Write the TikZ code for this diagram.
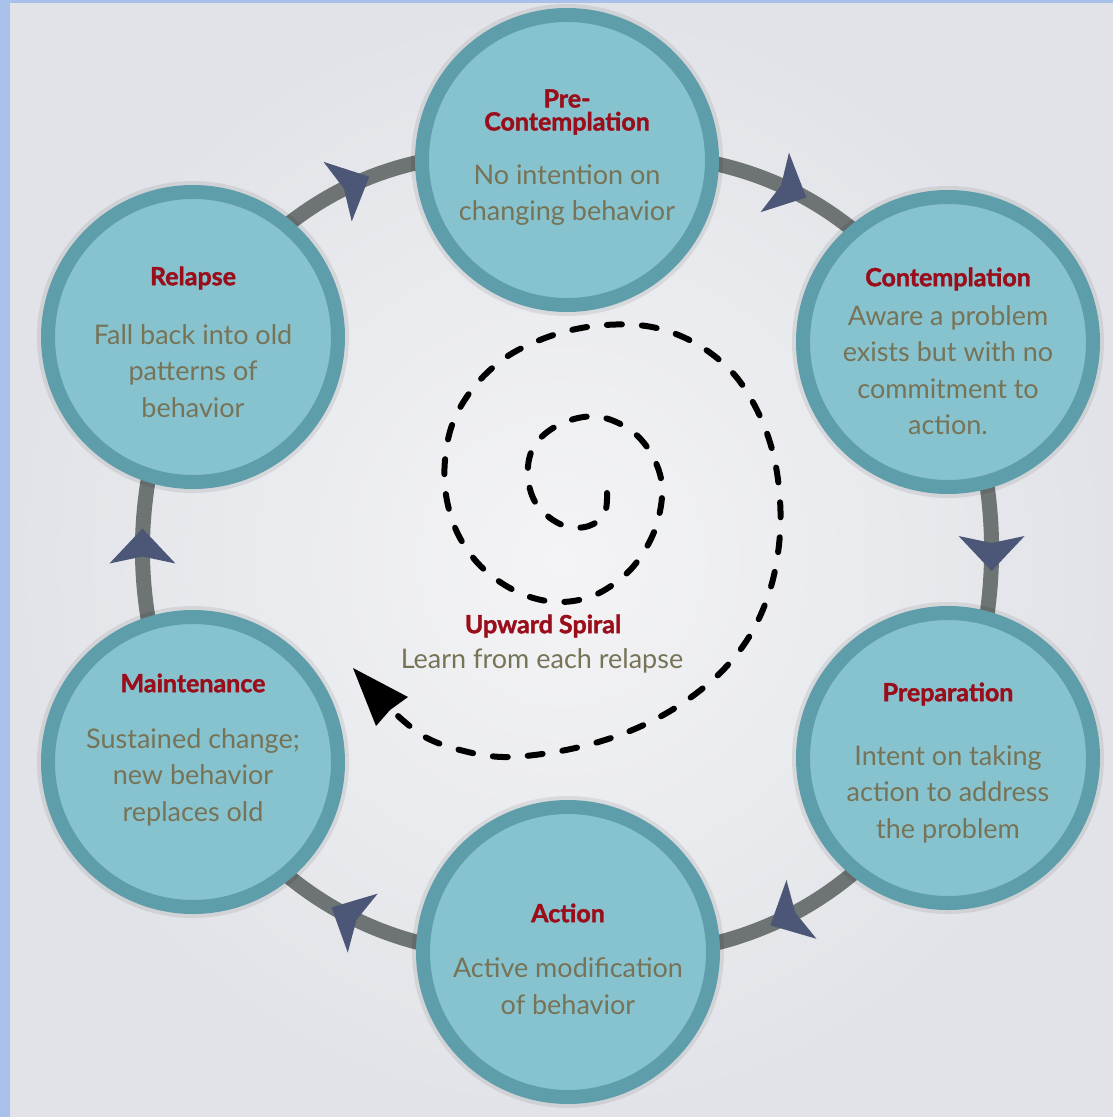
\documentclass[tikz,border=0pt]{standalone}
\usepackage{fontspec}
\setmainfont{Lato}
\newfontfamily\heavyfont{Lato}[BoldFeatures={FakeBold=1.6}]
\usetikzlibrary{decorations.markings}
\definecolor{bgblue}{HTML}{A9C1EA}
\definecolor{ringgray}{HTML}{6D7473}
\definecolor{arrowblue}{HTML}{4C5677}
\definecolor{tealring}{HTML}{5E9EAB}
\definecolor{tealfill}{HTML}{87C3CF}
\definecolor{titlered}{HTML}{9A0E1C}
\definecolor{bodyolive}{HTML}{777357}
\definecolor{bgin}{HTML}{F4F4F6}
\definecolor{bgout}{HTML}{E1E3E8}
\pgfdeclarelayer{bglayer}
\pgfsetlayers{bglayer,main}
\begin{document}
\begin{tikzpicture}[x=1pt,y=-1pt,
  stage/.style={circle, draw=tealring, fill=tealfill, line width=14pt, minimum size=290pt, inner sep=0pt},
  halo/.style={fill=black, opacity=0.08},
  ttl/.style={text=titlered, font=\fontsize{25}{23}\heavyfont\bfseries, align=center, inner sep=0pt},
  body/.style={text=bodyolive, font=\fontsize{27}{36.5}\selectfont, align=center, inner sep=0pt},
  cyc/.style={draw=ringgray, line width=15pt, postaction={decorate},
    decoration={markings, mark=at position 0.5 with {\fill[arrowblue] (21pt,0pt) -- (-14pt,-33pt) -- (-7pt,0pt) -- (-14pt,33pt) -- cycle;}}},
  spiral/.style={draw=black, line width=6pt, line cap=round, dash pattern=on 15pt off 20pt},
]
\useasboundingbox (0,0) rectangle (1113,1117);

% halos
\fill[halo] (567,160) circle (156pt);
\fill[halo] (948,342) circle (156pt);
\fill[halo] (948,758) circle (156pt);
\fill[halo] (568,952) circle (156pt);
\fill[halo] (193,762) circle (156pt);
\fill[halo] (193,337) circle (156pt);

% stages
\node[stage] (pre)  at (567,160) {};
\node[stage] (con)  at (948,342) {};
\node[stage] (prep) at (948,758) {};
\node[stage] (act)  at (568,952) {};
\node[stage] (mnt)  at (193,762) {};
\node[stage] (rel)  at (193,337) {};

\begin{pgfonlayer}{bglayer}
\fill[bgblue] (0,0) rectangle (1113,1117);
\shade[inner color=bgin, outer color=bgout] (10,3) rectangle (1113,1117);
\draw[cyc] (rel.center)  to[bend left=35] (pre.center);
\draw[cyc] (pre.center)  to[bend left=34] (con.center);
\draw[cyc] (con.center)  to[bend left=21] (prep.center);
\draw[cyc] (prep.center) to[bend left=33] (act.center);
\draw[cyc] (act.center)  to[bend left=33] (mnt.center);
\draw[cyc] (mnt.center)  to[bend left=24] (rel.center);
\end{pgfonlayer}

% texts
\node[ttl]  (preT) at (567,112) {Pre-\\Contemplation};
\node[body] (preB) at (567,195) {No intention on\\changing behavior};
\node[ttl]  (conT) at (948,279) {Contemplation};
\node[body] (conB) at (948,370) {Aware a problem\\exists but with no\\commitment to\\action.};
\node[ttl]  (prepT) at (948,694) {Preparation};
\node[body] (prepB) at (948,794) {Intent on taking\\action to address\\the problem};
\node[ttl]  (actT) at (568,913) {Action};
\node[body] (actB) at (568,986) {Active modification\\of behavior};
\node[ttl]  (mntT) at (193,683) {Maintenance};
\node[body] (mntB) at (193,777) {Sustained change;\\new behavior\\replaces old};
\node[ttl]  (relT) at (193,278) {Relapse};
\node[body] (relB) at (193,371) {Fall back into old\\patterns of\\behavior};
\node[ttl]  (upT) at (543,626) {Upward Spiral};
\node[body] (upB) at (542,661) {Learn from each relapse};

% spiral
\draw[spiral] plot[smooth, tension=0.6] coordinates {
(607,493) (604,515) (585,527) (560,524) (537,505) (528,478) (532,450) (550,430)
(578,418) (605,418) (633,432) (652,455) (662,485) (658,520) (645,550) (625,575)
(595,595) (562,602) (530,597) (500,582) (475,560) (456,530) (446,495) (445,460)
(452,425) (468,395) (490,370) (518,350) (560,333) (605,325) (652,327) (695,343)
(732,372) (757,410) (773,453) (780,500) (779,545) (770,590) (752,632) (725,668)
(690,698) (650,722) (605,740) (555,752) (503,757) (460,750) (425,737) (398,716)};
\fill[black] (353,668) -- (408,697) -- (390,710) -- (376,726) -- cycle;
\end{tikzpicture}
\end{document}
